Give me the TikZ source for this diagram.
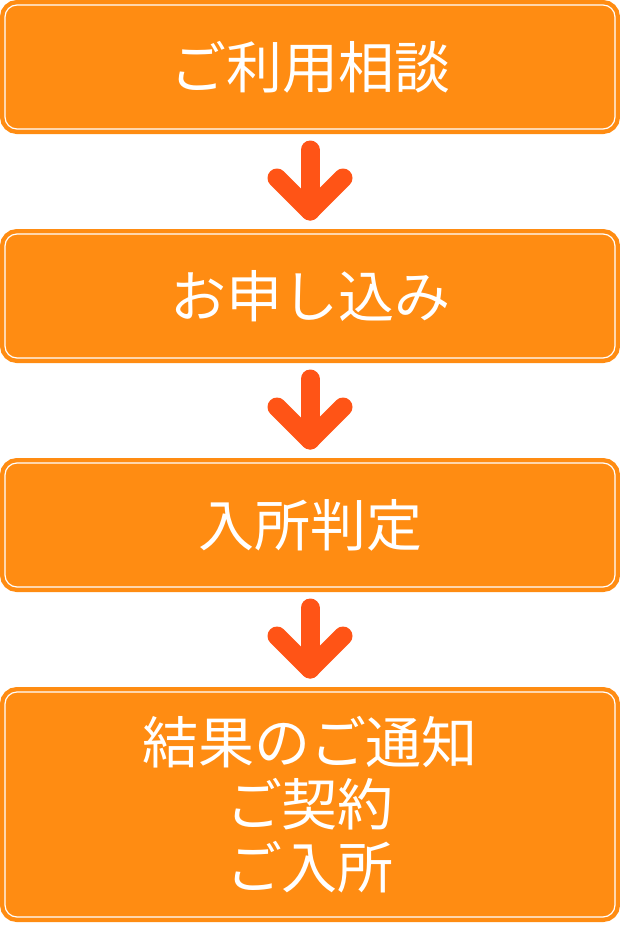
\documentclass[tikz,border=0pt]{standalone}
\usepackage{fontspec}
\setmainfont{Noto Sans CJK JP}
\usepackage{xcolor}
\usetikzlibrary{positioning}
\definecolor{boxorange}{RGB}{255,140,18}
\definecolor{arrred}{RGB}{255,84,22}

\begin{document}
\begin{tikzpicture}[x=1pt,y=1pt,node distance=105pt,font=\fontsize{56}{62.5}\selectfont]
 \tikzset{stepbox/.style={fill=boxorange,draw=white,line width=1.2pt,rounded corners=12pt,
            preaction={draw=boxorange,line width=10pt},outer sep=0pt,
            minimum width=610pt,minimum height=124pt,align=center,text=white},
          flowarr/.style={draw=arrred,line width=19pt,line cap=round,line join=round}}
 \useasboundingbox (0,0) rectangle (620,-930);
 \node[stepbox] (consult) at (310,-67) {ご利用相談};
 \node[stepbox,below=of consult] (apply) {お申し込み};
 \node[stepbox,below=of apply] (judge) {入所判定};
 \node[stepbox,below=of judge,minimum height=225pt] (result) {結果のご通知\\ご契約\\ご入所};
 \foreach \a/\b in {consult/apply,apply/judge,judge/result}{
   \coordinate (tip-\b) at ([yshift=23pt]\b.north);
   \draw[flowarr] ([yshift=-21pt]\a.south) -- (tip-\b);
   \draw[flowarr] ([shift={(-33pt,33pt)}]tip-\b) -- (tip-\b) -- ([shift={(33pt,33pt)}]tip-\b);
 }
\end{tikzpicture}
\end{document}
